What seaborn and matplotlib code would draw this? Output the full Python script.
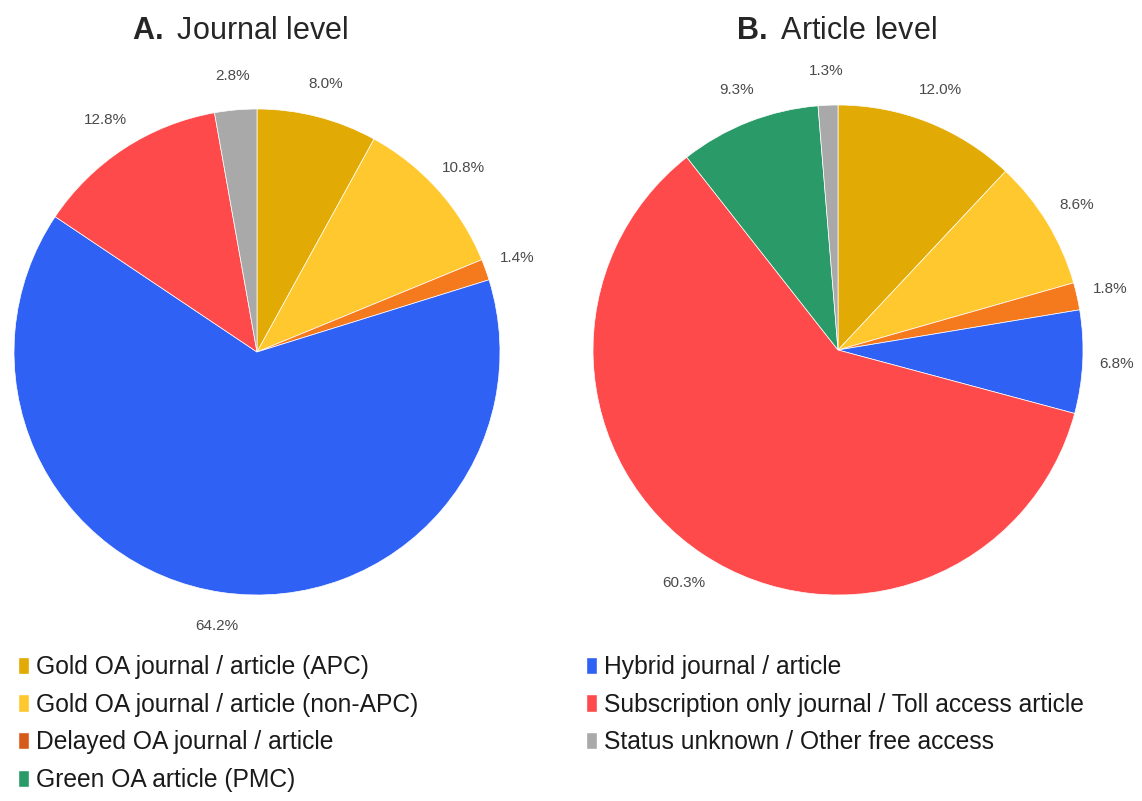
import matplotlib
matplotlib.use("Agg")
import matplotlib.pyplot as plt
import seaborn as sns
from matplotlib.patches import Patch

# data ------------------------------------------------------------
categories = ["Gold OA journal / article (APC)",
              "Gold OA journal / article (non-APC)",
              "Delayed OA journal / article",
              "Hybrid journal / article",
              "Subscription only journal / Toll access article",
              "Green OA article (PMC)",
              "Status unknown / Other free access"]
journal_pct = [8.0, 10.8, 1.4, 64.2, 12.8, 0.0, 2.8]
article_pct = [12.0, 8.6, 1.8, 6.8, 60.3, 9.3, 1.3]
colors = ["#E2AA04", "#FFC82E", "#F57A1E", "#3061F5", "#FF4A4C", "#2A9A68", "#A9A9A9"]
legend_colors = {"Delayed OA journal / article": "#D65A1A"}
legend_order = [0, 1, 2, 5, 3, 4, 6]

sns.set_theme(style="white")
plt.rcParams["font.family"] = ["Liberation Sans", "DejaVu Sans"]
plt.rcParams["mathtext.fontset"] = "custom"
plt.rcParams["mathtext.rm"] = "Liberation Sans"
plt.rcParams["mathtext.bf"] = "Liberation Sans:bold"

W, H = 1142, 801
fig = plt.figure(figsize=(W / 100, H / 100), dpi=100)


def pie_axes(cx, cy, r):
    return fig.add_axes([(cx - r) / W, 1 - (cy + r) / H, 2 * r / W, 2 * r / H])


def draw_pie(ax, values, title, tx):
    vals = [v for v in values if v > 0]
    cols = [c for v, c in zip(values, colors) if v > 0]
    shown = iter(vals)   # print the published numbers, not renormalised ones
    ax.pie(vals, colors=cols, startangle=90, counterclock=False,
           autopct=lambda p: f"{next(shown):.1f}%", pctdistance=1.14,
           wedgeprops=dict(edgecolor="white", linewidth=0.5),
           textprops=dict(color="#4a4a4a", fontsize=11))
    ax.set_xlim(-1, 1)
    ax.set_ylim(-1, 1)
    ax.set_aspect("equal")
    ax.axis("off")
    fig.text(tx / W, 1 - 31 / H, title, ha="center", va="center", fontsize=22)


ax1 = pie_axes(257, 352, 243)
draw_pie(ax1, journal_pct, r"$\bf{A.}$ Journal level", 240)
ax2 = pie_axes(838, 350, 245)
draw_pie(ax2, article_pct, r"$\bf{B.}$ Article level", 836)

handles = [Patch(facecolor=legend_colors.get(categories[i], colors[i]),
                 label=categories[i]) for i in legend_order]
fig.legend(handles=handles, loc="upper left", bbox_to_anchor=(8 / W, 1 - 645 / H),
           ncol=2, frameon=False, fontsize=17.7, labelspacing=0.56,
           handlelength=0.45, handleheight=0.7, handletextpad=0.3,
           columnspacing=6.8, borderaxespad=0, labelcolor="#1a1a1a")

fig.savefig("out.png", dpi=100)
